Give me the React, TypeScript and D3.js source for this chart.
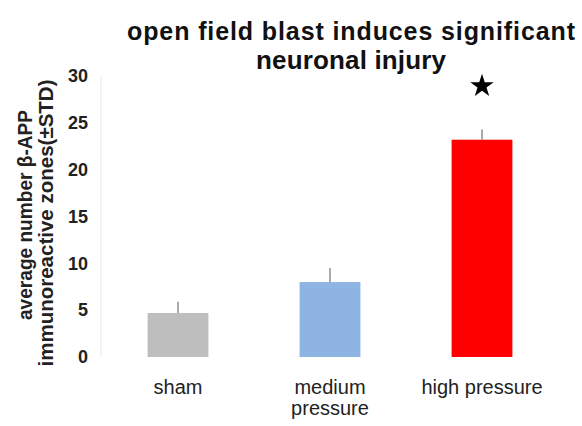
import React from "react";
import * as d3 from "d3";

const categories = ["sham", "medium pressure", "high pressure"];
const values = [4.7, 8.0, 23.2];
const errors = [1.2, 1.5, 1.1];
const colors = ["#bebebe", "#8db4e3", "#ff0000"];
const yTicks = [0, 5, 10, 15, 20, 25, 30];

export default function App() {
  const W = 582, H = 426;
  const y = d3.scaleLinear().domain([0, 30]).range([357, 76]);
  const x = d3.scaleBand().domain(categories).range([102, 558]).paddingInner(0.6).paddingOuter(0.3);
  const labelLines: Record<string, string[]> = {
    "sham": ["sham"],
    "medium pressure": ["medium", "pressure"],
    "high pressure": ["high pressure"],
  };
  const font = "Arial, 'Liberation Sans', sans-serif";
  const starX = (x("high pressure") as number) + x.bandwidth() / 2;
  const star = d3.symbol().type(d3.symbolStar).size(170)();
  return (
    <svg width={W} height={H} style={{ position: "absolute", left: 0, top: 0, background: "#fff" }} fontFamily={font}>
      <rect width={W} height={H} fill="#fff" />
      <text x={351} y={40} textAnchor="middle" fontSize={25} fontWeight="bold" fill="#111" textLength={448} lengthAdjust="spacing">open field blast induces significant</text>
      <text x={351} y={69} textAnchor="middle" fontSize={26} fontWeight="bold" fill="#111" textLength={190} lengthAdjust="spacing">neuronal injury</text>
      <line x1={101} x2={101} y1={y(30)} y2={y(0)} stroke="#e8e8e8" strokeWidth={1} />
      {yTicks.map((t) => (
        <text key={t} x={88} y={y(t)} dy="0.35em" textAnchor="end" fontSize={18} fontWeight="bold" fill="#222">{t}</text>
      ))}
      <g transform="rotate(-90)">
        <text x={-215} y={32} textAnchor="middle" fontSize={19.5} fontWeight="bold" fill="#222" textLength={210} lengthAdjust="spacingAndGlyphs">average number β-APP</text>
        <text x={-223} y={53} textAnchor="middle" fontSize={19.5} fontWeight="bold" fill="#222" textLength={287} lengthAdjust="spacingAndGlyphs">immunoreactive zones(±STD)</text>
      </g>
      {categories.map((c, i) => {
        const bx = x(c) as number;
        const cx = bx + x.bandwidth() / 2;
        return (
          <g key={c}>
            <rect x={bx} y={y(values[i])} width={x.bandwidth()} height={y(0) - y(values[i])} fill={colors[i]} />
            <line x1={cx} x2={cx} y1={y(values[i])} y2={y(values[i] + errors[i])} stroke="#555" strokeWidth={1} />
            {labelLines[c].map((l, j) => (
              <text key={j} x={cx} y={394 + j * 21} textAnchor="middle" fontSize={20} fill="#222">{l}</text>
            ))}
          </g>
        );
      })}
      <path d={star as string} transform={`translate(${starX},86)`} fill="#000" />
    </svg>
  );
}
